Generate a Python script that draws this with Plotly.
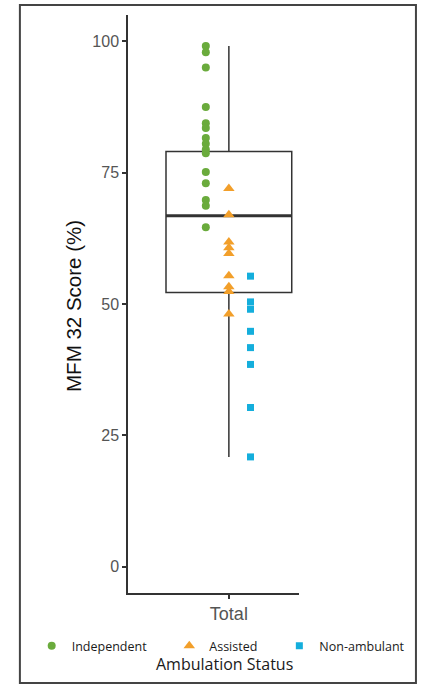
import plotly.graph_objects as go

# ---- data ----
independent = [99.1, 97.9, 95.0, 87.5, 84.4, 83.5, 81.6, 80.5, 79.4, 78.7,
               75.1, 73.0, 69.8, 68.7, 64.6]
assisted = [72.0, 67.0, 61.8, 60.7, 59.6, 55.4, 53.3, 52.4, 48.1]
non_ambulant = [55.3, 50.4, 49.0, 44.8, 41.7, 38.5, 30.3, 20.9]

category = "Total"
box_q1 = [52.2]
box_median = [66.8]
box_q3 = [79.0]
box_low = [20.9]
box_high = [99.1]
y_ticks = [0, 25, 50, 75, 100]

# ---- styling / positions ----
X_CENTER = 1.0
BOX_W = 0.9
OFF = {"Independent": -0.165, "Assisted": 0.0, "Non-ambulant": 0.155}
GREEN, ORANGE, BLUE = "#6AAB3C", "#F29F2A", "#14AEDC"
LINE = "#333333"

fig = go.Figure()

fig.add_trace(go.Box(
    x=[X_CENTER], q1=box_q1, median=box_median, q3=box_q3,
    lowerfence=box_low, upperfence=box_high, width=BOX_W,
    line=dict(color=LINE, width=1.5), fillcolor="rgba(0,0,0,0)",
    whiskerwidth=0, boxpoints=False, showlegend=False, hoverinfo="skip"))

# thicker median line (ggplot style)
fig.add_trace(go.Scatter(
    x=[X_CENTER - BOX_W / 2, X_CENTER + BOX_W / 2], y=box_median * 2,
    mode="lines", line=dict(color=LINE, width=3), showlegend=False,
    hoverinfo="skip"))

def pts(vals, name, color, symbol, size, legend):
    return go.Scatter(
        x=[X_CENTER + OFF[name]] * len(vals), y=vals, mode="markers",
        name=name, legend=legend,
        marker=dict(color=color, symbol=symbol, size=size, line=dict(width=0)))

fig.add_trace(pts(independent, "Independent", GREEN, "circle", 8, "legend"))
fig.add_trace(pts(assisted, "Assisted", ORANGE, "triangle-up", 10, "legend2"))
fig.add_trace(pts(non_ambulant, "Non-ambulant", BLUE, "square", 7, "legend3"))

L, R, T, B = 128, 120, 15, 93
W, H = 422, 686
pw, ph = W - L - R, H - T - B

def px_x(p):
    return (p - L) / pw

def px_y(p):
    return (H - B - p) / ph

leg_common = dict(orientation="h", xanchor="left", yanchor="middle",
                  bgcolor="rgba(0,0,0,0)", borderwidth=0,
                  font=dict(family="Open Sans", size=12.5, color="#1a1a1a"))
leg_y = px_y(646)

fig.update_layout(
    width=W, height=H, autosize=False,
    margin=dict(l=L, r=R, t=T, b=B),
    paper_bgcolor="white", plot_bgcolor="white",
    showlegend=True,
    legend=dict(x=px_x(50 - 20), y=leg_y, **leg_common),
    legend2=dict(x=px_x(189 - 19), y=leg_y, **leg_common),
    legend3=dict(x=px_x(302 - 20), y=leg_y, **leg_common),
    xaxis=dict(range=[0.278, 1.502], tickvals=[X_CENTER], ticktext=[category],
               showgrid=False, zeroline=False, showline=True, linecolor=LINE,
               linewidth=1.5, ticks="outside", ticklen=4, tickwidth=1.5,
               tickcolor=LINE,
               tickfont=dict(family="Liberation Sans", size=18, color="#555555")),
    yaxis=dict(range=[-5, 105], tickvals=y_ticks, showgrid=False,
               zeroline=False, showline=True, linecolor=LINE, linewidth=1.5,
               ticks="outside", ticklen=4, tickwidth=1.5, tickcolor=LINE,
               tickfont=dict(family="Liberation Sans", size=16, color="#555555")),
    annotations=[
        dict(text="MFM 32 Score (%)", textangle=-90, xref="paper", yref="paper",
             x=px_x(72), y=px_y(306), xanchor="center", yanchor="middle",
             showarrow=False,
             font=dict(family="Liberation Sans", size=20.5, color="#111111")),
        dict(text="Ambulation Status", xref="paper", yref="paper",
             x=px_x(226), y=px_y(664), xanchor="center", yanchor="middle",
             showarrow=False,
             font=dict(family="Open Sans", size=16, color="#1a1a1a")),
    ],
    shapes=[dict(type="rect", xref="paper", yref="paper",
                 x0=px_x(18), x1=px_x(421), y0=px_y(683), y1=px_y(5),
                 line=dict(color="#444444", width=2), layer="above")],
)

fig.write_html(
    "out.html",
    config={"displayModeBar": False},
    post_script="document.body.style.margin='0';document.body.style.overflow='hidden';")
